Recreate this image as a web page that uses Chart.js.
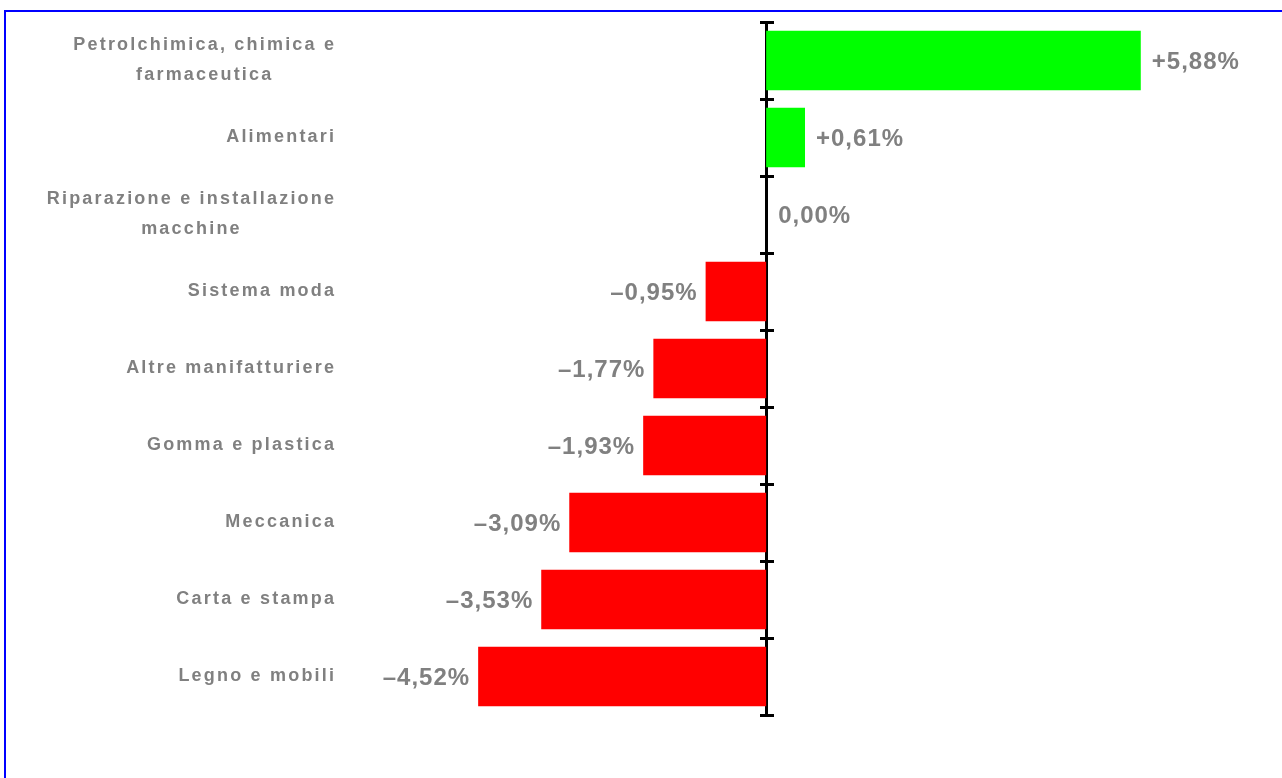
<!DOCTYPE html>
<html lang="it">
<head>
<meta charset="utf-8">
<title>Variazione per settore</title>
<script src="https://cdn.jsdelivr.net/npm/chart.js@4.4.1/dist/chart.umd.min.js"></script>
<style>
  html, body { margin: 0; padding: 0; background: #fff; }
  .flaeche { position: relative; width: 1282px; height: 778px; overflow: hidden; }
  .rahmen { position: absolute; left: 4px; top: 10px; width: 1400px; height: 900px; border: 2px solid #0000ff; }
  #settoriChart { position: absolute; left: 0; top: 0; }
</style>
</head>
<body>
<div class="flaeche">
  <div class="rahmen"></div>
  <canvas id="settoriChart" width="1282" height="778"></canvas>
</div>
<script>
// --- Daten ---
const SETTORI = [
  ['Petrolchimica, chimica e', 'farmaceutica'],
  'Alimentari',
  ['Riparazione e installazione', 'macchine'],
  'Sistema moda',
  'Altre manifatturiere',
  'Gomma e plastica',
  'Meccanica',
  'Carta e stampa',
  'Legno e mobili',
];
const VARIAZIONI = [5.88, 0.61, 0.00, -0.95, -1.77, -1.93, -3.09, -3.53, -4.52];

// Wertebereich der x-Achse (Achse selbst unsichtbar, nur die Nulllinie wird gezeigt)
const X_MIN = -6.5;
const X_MAX = 7.5;

const GRUEN = '#00ff00';
const ROT = '#ff0000';
const GRAU = '#808080';
const SCHRIFT = '"Liberation Sans", Arial, sans-serif';

// Sperrung nur setzen, wenn der Canvas sie kann
const HAT_SPERRUNG = 'letterSpacing' in CanvasRenderingContext2D.prototype;
const SPERRUNG_KAT = HAT_SPERRUNG ? 2.2 : 0;
const SPERRUNG_WERT = HAT_SPERRUNG ? 1 : 0;
const ZEILENHOEHE = 30;

// Italienisches Format: Komma, Plus bei positiven Werten, Halbgeviertstrich bei negativen
function formatWert(v) {
  const txt = Math.abs(v).toFixed(2).replace('.', ',') + '%';
  if (v > 0) return '+' + txt;
  if (v < 0) return '\u2013' + txt;
  return txt;
}

// Sichtbare Breite (ohne Sperrung hinter dem letzten Zeichen)
function textBreite(ctx, text, sperrung) {
  if (HAT_SPERRUNG) ctx.letterSpacing = sperrung + 'px';
  return ctx.measureText(text).width - sperrung;
}

function zeichneText(ctx, text, x, y, sperrung) {
  if (HAT_SPERRUNG) ctx.letterSpacing = sperrung + 'px';
  ctx.textAlign = 'left';
  ctx.fillText(text, x, y);
}

// --- Plugin: Sektorbezeichnungen links, Block rechtsbündig, Zeilen zentriert ---
const settoriLabels = {
  id: 'settoriLabels',
  afterDraw(chart) {
    const { ctx, chartArea, scales } = chart;
    const rechts = chartArea.left - 18;
    ctx.save();
    ctx.font = 'bold 18px ' + SCHRIFT;
    ctx.fillStyle = GRAU;
    ctx.textBaseline = 'middle';
    SETTORI.forEach((label, i) => {
      const zeilen = Array.isArray(label) ? label : [label];
      const yMitte = scales.y.getPixelForValue(i);
      const breiten = zeilen.map(z => textBreite(ctx, z, SPERRUNG_KAT));
      const mitteX = rechts - Math.max(...breiten) / 2;
      zeilen.forEach((z, j) => {
        const y = yMitte + (j - (zeilen.length - 1) / 2) * ZEILENHOEHE;
        zeichneText(ctx, z, mitteX - breiten[j] / 2, y, SPERRUNG_KAT);
      });
    });
    ctx.restore();
  }
};

// --- Plugin: Prozentwerte an den Balkenenden ---
const wertLabels = {
  id: 'wertLabels',
  afterDatasetsDraw(chart) {
    const { ctx } = chart;
    const balken = chart.getDatasetMeta(0).data;
    ctx.save();
    ctx.font = 'bold 24px ' + SCHRIFT;
    ctx.fillStyle = GRAU;
    ctx.textBaseline = 'middle';
    balken.forEach((b, i) => {
      const wert = VARIAZIONI[i];
      const txt = formatWert(wert);
      const breite = textBreite(ctx, txt, SPERRUNG_WERT);
      let x;
      if (wert > 0) x = b.x + 11;
      else if (wert < 0) x = b.x - 9 - breite;
      else x = b.x + 12;
      zeichneText(ctx, txt, x, b.y + 2, SPERRUNG_WERT);
    });
    ctx.restore();
  }
};

// Nulllinie mit Teilstrichen: zwei Kategorie-Achsen bei x = 0,
// eine mit Strichen nach links (inkl. Linie), eine mit Strichen nach rechts
function nullAchse(strichLaenge, mitLinie) {
  return {
    type: 'category',
    axis: 'y',
    position: { x: 0 },
    offset: true,
    z: 1,
    grid: {
      offset: true,
      drawOnChartArea: false,
      drawTicks: true,
      tickLength: strichLaenge,
      color: '#000000',
      lineWidth: 3,
    },
    border: { display: mitLinie, color: '#000000', width: 3 },
    ticks: { display: false },
    afterFit: (scale) => { scale.width = 0; },
  };
}

new Chart(document.getElementById('settoriChart'), {
  type: 'bar',
  data: {
    labels: SETTORI,
    datasets: [{
      data: VARIAZIONI,
      backgroundColor: (ctx) => (ctx.raw >= 0 ? GRUEN : ROT),
      borderWidth: 0,
      barPercentage: 0.77,
      categoryPercentage: 1,
    }],
  },
  options: {
    indexAxis: 'y',
    responsive: false,
    animation: false,
    devicePixelRatio: 1,
    layout: {
      padding: { left: 352, right: 38, top: 22, bottom: 63 },
    },
    plugins: {
      legend: { display: false },
      tooltip: { enabled: false },
    },
    scales: {
      x: {
        type: 'linear',
        display: false,
        min: X_MIN,
        max: X_MAX,
      },
      y: {
        display: false,
      },
      nullLinks: nullAchse(5, true),
      nullRechts: nullAchse(-8, false),
    },
  },
  plugins: [settoriLabels, wertLabels],
});
</script>
</body>
</html>
